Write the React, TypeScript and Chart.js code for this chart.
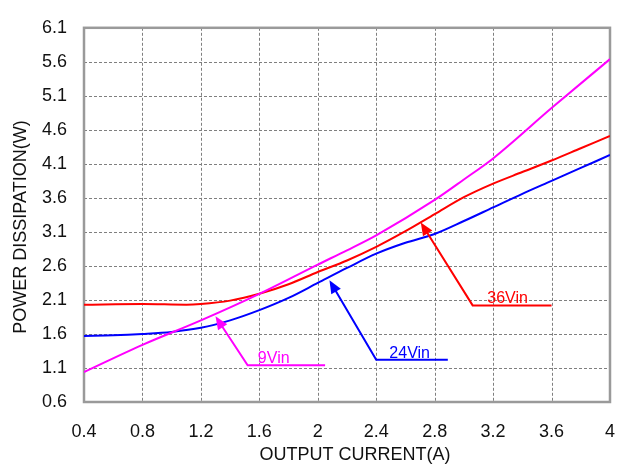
import React, { useEffect, useRef } from "react";
import { Chart, registerables } from "chart.js";

Chart.register(...registerables);

// ---- data ----
const xTickValues = [0.4, 0.8, 1.2, 1.6, 2.0, 2.4, 2.8, 3.2, 3.6, 4.0];
const xTickLabels = ["0.4", "0.8", "1.2", "1.6", "2", "2.4", "2.8", "3.2", "3.6", "4"];
const yTickValues = [0.6, 1.1, 1.6, 2.1, 2.6, 3.1, 3.6, 4.1, 4.6, 5.1, 5.6, 6.1];
const yTickLabels = ["0.6", "1.1", "1.6", "2.1", "2.6", "3.1", "3.6", "4.1", "4.6", "5.1", "5.6", "6.1"];

const current9 = [0.4, 0.8, 1.2, 1.6, 2.0, 2.2, 2.4, 2.8, 3.0, 3.2, 3.6, 4.0];
const power9 = [1.04, 1.44, 1.8, 2.19, 2.62, 2.83, 3.05, 3.57, 3.87, 4.18, 4.92, 5.64];

const current24 = [0.4, 0.6, 0.8, 1.0, 1.2, 1.4, 1.6, 1.8, 2.0, 2.2, 2.4, 2.6, 2.8, 3.0, 3.2, 3.4, 3.6, 3.8, 4.0];
const power24 = [1.57, 1.58, 1.6, 1.63, 1.69, 1.8, 1.95, 2.13, 2.35, 2.57, 2.78, 2.94, 3.07, 3.26, 3.46, 3.66, 3.85, 4.04, 4.23];

const current36 = [0.4, 0.8, 1.1, 1.2, 1.4, 1.6, 1.8, 2.0, 2.2, 2.4, 2.6, 2.8, 3.0, 3.2, 3.4, 3.6, 3.8, 4.0];
const power36 = [2.03, 2.04, 2.03, 2.04, 2.09, 2.19, 2.33, 2.51, 2.68, 2.88, 3.11, 3.36, 3.61, 3.81, 3.98, 4.15, 4.33, 4.51];

// annotation callouts: arrow tip, elbow, end (data units)
const callout9X = [1.3, 1.52, 2.05];
const callout9Y = [1.86, 1.14, 1.14];
const callout24X = [2.08, 2.4, 2.89];
const callout24Y = [2.39, 1.22, 1.22];
const callout36X = [2.705, 3.06, 3.6];
const callout36Y = [3.24, 2.02, 2.02];
const calloutLabels = ["9Vin", "24Vin", "36Vin"];
const calloutLabelX = [1.59, 2.49, 3.16];

const MAGENTA = "#ff00ff";
const BLUE = "#0000ff";
const RED = "#ff0000";
const FONT = '"Liberation Sans", Arial, sans-serif';

function toPts(xs: number[], ys: number[]) {
  return xs.map((x, i) => ({ x, y: ys[i] }));
}

const frameAndTextPlugin = {
  id: "frameAndText",
  beforeDatasetsDraw(chart: any) {
    const { ctx, chartArea } = chart;
    const xs = chart.scales.x;
    const ys = chart.scales.y;
    ctx.save();
    // dashed grid
    ctx.strokeStyle = "#7f7f7f";
    ctx.lineWidth = 1;
    ctx.setLineDash([3, 2]);
    xTickValues.forEach((v) => {
      const p = Math.round(xs.getPixelForValue(v)) + 0.5;
      ctx.beginPath();
      ctx.moveTo(p, chartArea.top);
      ctx.lineTo(p, chartArea.bottom);
      ctx.stroke();
    });
    yTickValues.forEach((v) => {
      const p = Math.round(ys.getPixelForValue(v)) + 0.5;
      ctx.beginPath();
      ctx.moveTo(chartArea.left, p);
      ctx.lineTo(chartArea.right, p);
      ctx.stroke();
    });
    ctx.setLineDash([]);
    // frame
    ctx.strokeStyle = "#9a9a9a";
    ctx.lineWidth = 2.5;
    ctx.strokeRect(chartArea.left, chartArea.top, chartArea.right - chartArea.left, chartArea.bottom - chartArea.top);
    ctx.restore();
  },
  afterDatasetsDraw(chart: any) {
    const { ctx } = chart;
    const xs = chart.scales.x;
    const ys = chart.scales.y;
    const callouts = [
      { X: callout9X, Y: callout9Y, color: MAGENTA },
      { X: callout24X, Y: callout24Y, color: BLUE },
      { X: callout36X, Y: callout36Y, color: RED },
    ];
    callouts.forEach((c, idx) => {
      const px = c.X.map((v) => xs.getPixelForValue(v));
      const py = c.Y.map((v) => ys.getPixelForValue(v));
      ctx.save();
      ctx.strokeStyle = c.color;
      ctx.fillStyle = c.color;
      ctx.lineWidth = 2;
      ctx.beginPath();
      const dx = px[0] - px[1];
      const dy = py[0] - py[1];
      const len = Math.hypot(dx, dy);
      const ux = dx / len;
      const uy = dy / len;
      const headLen = 13;
      const headHalf = 5.5;
      ctx.moveTo(px[0] - ux * headLen * 0.8, py[0] - uy * headLen * 0.8);
      for (let i = 1; i < px.length; i++) ctx.lineTo(px[i], py[i]);
      ctx.stroke();
      const bx = px[0] - ux * headLen;
      const by = py[0] - uy * headLen;
      ctx.beginPath();
      ctx.moveTo(px[0], py[0]);
      ctx.lineTo(bx - uy * headHalf, by + ux * headHalf);
      ctx.lineTo(bx + uy * headHalf, by - ux * headHalf);
      ctx.closePath();
      ctx.fill();
      ctx.font = `16px ${FONT}`;
      ctx.textAlign = "left";
      ctx.textBaseline = "alphabetic";
      ctx.fillText(calloutLabels[idx], xs.getPixelForValue(calloutLabelX[idx]), py[1] - 2);
      ctx.restore();
    });

    // axis titles
    ctx.save();
    ctx.fillStyle = "#111";
    ctx.font = `18px ${FONT}`;
    ctx.textAlign = "center";
    ctx.textBaseline = "middle";
    ctx.fillText("OUTPUT CURRENT(A)", 355, 455);
    ctx.translate(21, 227);
    ctx.rotate(-Math.PI / 2);
    ctx.fillText("POWER DISSIPATION(W)", 0, 0);
    ctx.restore();
  },
};

export default function App() {
  const canvasRef = useRef<HTMLCanvasElement | null>(null);

  useEffect(() => {
    const canvas = canvasRef.current;
    if (!canvas) return;
    const chart = new Chart(canvas, {
      type: "line",
      data: {
        datasets: [
          {
            label: "9Vin",
            data: toPts(current9, power9),
            borderColor: MAGENTA,
            borderWidth: 2,
            pointRadius: 0,
            cubicInterpolationMode: "monotone",
            fill: false,
          },
          {
            label: "24Vin",
            data: toPts(current24, power24),
            borderColor: BLUE,
            borderWidth: 2,
            pointRadius: 0,
            cubicInterpolationMode: "monotone",
            fill: false,
          },
          {
            label: "36Vin",
            data: toPts(current36, power36),
            borderColor: RED,
            borderWidth: 2,
            pointRadius: 0,
            cubicInterpolationMode: "monotone",
            fill: false,
          },
        ],
      },
      options: {
        animation: false,
        responsive: false,
        maintainAspectRatio: false,
        layout: { padding: { top: 14, right: 19, left: 0, bottom: 0 } },
        plugins: { legend: { display: false }, tooltip: { enabled: false } },
        scales: {
          x: {
            type: "linear",
            min: 0.4,
            max: 4.0,
            afterBuildTicks: (scale: any) => {
              scale.ticks = xTickValues.map((v) => ({ value: v }));
            },
            afterFit: (scale: any) => {
              scale.height = 69;
            },
            ticks: {
              autoSkip: false,
              maxRotation: 0,
              padding: 19,
              color: "#111",
              font: { size: 18, family: FONT },
              callback: (_v: any, i: number) => xTickLabels[i],
            },
            grid: { display: false, drawTicks: false },
            border: { display: false },
          },
          y: {
            type: "linear",
            min: 0.6,
            max: 6.1,
            afterBuildTicks: (scale: any) => {
              scale.ticks = yTickValues.map((v) => ({ value: v }));
            },
            afterFit: (scale: any) => {
              scale.width = 84;
            },
            ticks: {
              autoSkip: false,
              padding: 17,
              color: "#111",
              font: { size: 18, family: FONT },
              callback: (_v: any, i: number) => yTickLabels[i],
            },
            grid: { display: false, drawTicks: false },
            border: { display: false },
          },
        },
      },
      plugins: [frameAndTextPlugin],
    } as any);
    return () => chart.destroy();
  }, []);

  return (
    <div style={{ position: "fixed", left: 0, top: 0, width: 634, height: 471, background: "#fff" }}>
      <canvas ref={canvasRef} width={634} height={471} style={{ width: 634, height: 471, display: "block" }} />
    </div>
  );
}
